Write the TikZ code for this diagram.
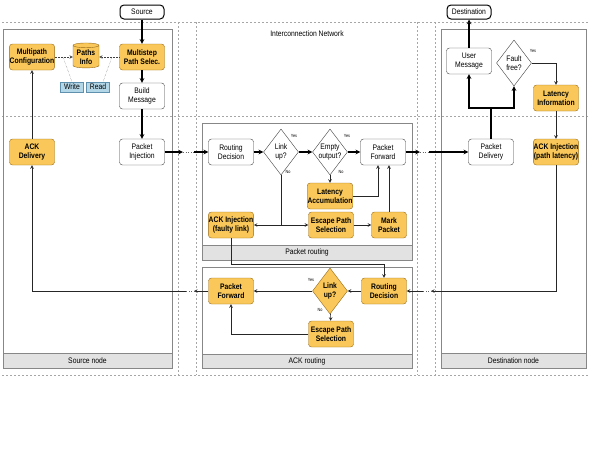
\documentclass[tikz,border=0pt]{standalone}
\usepackage{fontspec}
\setmainfont{Liberation Sans}[FakeStretch=0.85]
\usetikzlibrary{shapes.geometric}
\definecolor{ackyellow}{RGB}{250,200,90}
\definecolor{ackedge}{RGB}{150,105,25}
\definecolor{bandgray}{RGB}{226,226,226}
\definecolor{framegray}{RGB}{135,135,135}
\definecolor{rwblue}{RGB}{180,215,232}
\definecolor{rwedge}{RGB}{95,145,175}

\begin{document}
\begin{tikzpicture}[x=1pt, y=-1pt, >=stealth,
    txt/.style={font=\fontsize{8}{8.6}\selectfont},
    pbox/.style={txt, draw=black!75, rounded corners=3pt, fill=white, minimum width=45pt, minimum height=26pt, inner sep=0.3pt, align=center},
    abox/.style={pbox, draw=ackedge, fill=ackyellow, font=\fontsize{8}{8.6}\selectfont\bfseries},
    decide/.style={txt, diamond, aspect=0.76, draw=black!75, fill=white, minimum width=35pt, minimum height=46pt, inner sep=0pt, align=center},
    endpt/.style={txt, draw, line width=1pt, rounded corners=4pt, minimum width=44pt, minimum height=14pt, inner sep=1pt},
    rwtag/.style={txt, draw=rwedge, fill=rwblue, minimum width=23pt, minimum height=10pt, inner sep=0.3pt},
    yn/.style={font=\fontsize{4.5}{4.5}\selectfont},
    zone/.style={draw=black!35, dash pattern=on 2pt off 2pt, line width=0.4pt},
    frame/.style={draw=framegray, line width=0.8pt},
    band/.style={draw=framegray, fill=bandgray, line width=0.8pt},
    flow/.style={->, line width=1.1pt, black},
    side/.style={->, line width=0.6pt, black!85},
    info/.style={->, densely dotted, line width=0.5pt, black!75},
    note/.style={densely dotted, line width=0.4pt, black!55},
    gap/.style={dotted, line width=0.5pt, black!60}]
    \useasboundingbox (0,0) rectangle (590,450);

    % Zones
    \draw[zone] (2,22) -- (588,22);
    \draw[zone] (2,116) -- (588,116);
    \draw[zone] (2,375) -- (588,375);
    \foreach \x in {178,196,417,435}
      \draw[zone] (\x,22) -- (\x,375);
    \node[txt] (netlbl) at (307,34) {Interconnection Network};

    % Frames
    \draw[frame] (3,29) rectangle (172,368);
    \draw[band] (3,353) rectangle (172,368);
    \node[txt] (srclbl) at (87.5,360.5) {Source node};
    \draw[frame] (202,123) rectangle (412,260);
    \draw[band] (202,245) rectangle (412,260);
    \node[txt] (pktlbl) at (307,252.5) {Packet routing};
    \draw[frame] (202,267) rectangle (412,368);
    \draw[band] (202,354) rectangle (412,368);
    \node[txt] (acklbl) at (307,361) {ACK routing};
    \draw[frame] (441,29) rectangle (586,368);
    \draw[band] (441,353) rectangle (586,368);
    \node[txt] (dstlbl) at (513.5,360.5) {Destination node};

    % Source node
    \node[endpt] (src) at (142,12) {Source};
    \node[abox] (mcfg) at (32,57) {Multipath\\Configuration};
    \node[txt, cylinder, shape border rotate=90, aspect=0.25, draw=ackedge, fill=ackyellow,
          minimum width=26pt, minimum height=25pt, inner sep=0.3pt, align=center,
          font=\fontsize{8}{8.6}\selectfont\bfseries] (pinfo) at (86,57) {Paths\\Info};
    \node[abox] (msel) at (142,57) {Multistep\\Path Selec.};
    \node[pbox] (bmsg) at (142,96) {Build\\Message};
    \node[rwtag] (write) at (72,87) {Write};
    \node[rwtag] (read) at (98,87) {Read};
    \node[pbox] (pinj) at (142,152) {Packet\\Injection};
    \node[abox] (ackd) at (32,152) {ACK\\Delivery};

    % Packet routing
    \node[pbox] (rdec) at (231,152) {Routing\\Decision};
    \node[decide] (lup) at (281,152) {Link\\up?};
    \node[decide] (empty) at (330,152) {Empty\\output?};
    \node[pbox] (pfwd) at (383,152) {Packet\\Forward};
    \node[abox] (lacc) at (330,196) {Latency\\Accumulation};
    \node[abox] (ackf) at (231,225) {ACK Injection\\(faulty link)};
    \node[abox] (esc) at (331,225) {Escape Path\\Selection};
    \node[abox, minimum width=35pt] (mark) at (389,225) {Mark\\Packet};
    \node[yn] (lupyes) at (294,136) {Yes};
    \node[yn] (lupno) at (288,172) {No};
    \node[yn] (empyes) at (347,136) {Yes};
    \node[yn] (empno) at (341,172) {No};

    % ACK routing
    \node[abox] (apfwd) at (231,291) {Packet\\Forward};
    \node[decide, draw=ackedge, fill=ackyellow, font=\fontsize{8}{8.6}\selectfont\bfseries] (alup) at (330,291) {Link\\up?};
    \node[abox] (ardec) at (384,291) {Routing\\Decision};
    \node[abox] (aesc) at (331,334) {Escape Path\\Selection};
    \node[yn] (alupyes) at (311,280) {Yes};
    \node[yn] (alupno) at (320,310) {No};

    % Destination node
    \node[endpt] (dst) at (469,12) {Destination};
    \node[pbox] (umsg) at (469,61) {User\\Message};
    \node[decide] (ffree) at (514,63) {Fault\\free?};
    \node[yn] (ffyes) at (533,51) {Yes};
    \node[abox] (linfo) at (556,98) {Latency\\Information};
    \node[pbox] (pdel) at (491,152) {Packet\\Delivery};
    \node[abox] (ackp) at (556,152) {ACK Injection\\(path latency)};

    % Gaps in the network
    \coordinate (inA) at (183,152);
    \coordinate (inB) at (194,152);
    \coordinate (poA) at (420,152);
    \coordinate (poB) at (429,152);
    \coordinate (aoA) at (431,291);
    \coordinate (aoB) at (423,291);
    \coordinate (riA) at (194,291);
    \coordinate (riB) at (186,291);

    % Source node arrows
    \draw[flow] (src) -- (msel);
    \draw[flow] (msel) -- (bmsg);
    \draw[flow] (bmsg) -- (pinj);
    \draw[info] (mcfg) -- (pinfo);
    \draw[info] (msel) -- (pinfo);
    \coordinate (wr) at (63,57);
    \coordinate (rd) at (112,57);
    \draw[note] (wr) -- (write.north);
    \draw[note] (rd) -- ([xshift=5pt]read.north);
    \draw[side] (ackd) -- (mcfg);

    % Packet to the destination
    \draw[flow] (pinj) -- (inA);
    \draw[gap] (inA) -- (inB);
    \draw[flow] (inB) -- (rdec);
    \draw[flow] (rdec) -- (lup);
    \draw[flow] (lup) -- (empty);
    \draw[flow] (empty) -- (pfwd);
    \draw[side] (empty) -- (lacc);
    \draw[side] (lacc) -| ([xshift=-5pt]pfwd.south);
    \coordinate (nsplit) at (lup |- esc);
    \draw[side, -] (lup) -- (nsplit);
    \draw[side] (nsplit) -- (ackf);
    \draw[side] (nsplit) -- (esc);
    \draw[side] (esc) -- (mark);
    \draw[side] (mark) -- (mark |- pfwd.south);
    \draw[flow] (pfwd) -- (poA);
    \draw[gap] (poA) -- (poB);
    \draw[flow] (poB) -- (pdel);

    % Destination node arrows
    \coordinate (dsplit) at (491,108);
    \draw[flow] (pdel) -- (dsplit) -| (umsg);
    \draw[flow] (dsplit) -| (ffree);
    \draw[flow] (umsg) -- (dst);
    \draw[side] (ffree) -| (linfo);
    \draw[side] (linfo) -- (ackp);

    % ACK back to the source
    \draw[side] (ackf) -- ++(0,39) -| (ardec);
    \draw[side] (ackp) |- (aoA);
    \draw[gap] (aoA) -- (aoB);
    \draw[side] (aoB) -- (ardec);
    \draw[side] (ardec) -- (alup);
    \draw[side] (alup) -- (apfwd);
    \draw[side] (alup) -- (aesc);
    \draw[side] (aesc) -| (apfwd);
    \draw[side] (apfwd) -- (riA);
    \draw[gap] (riA) -- (riB);
    \draw[side] (riB) -| (ackd);
\end{tikzpicture}
\end{document}
